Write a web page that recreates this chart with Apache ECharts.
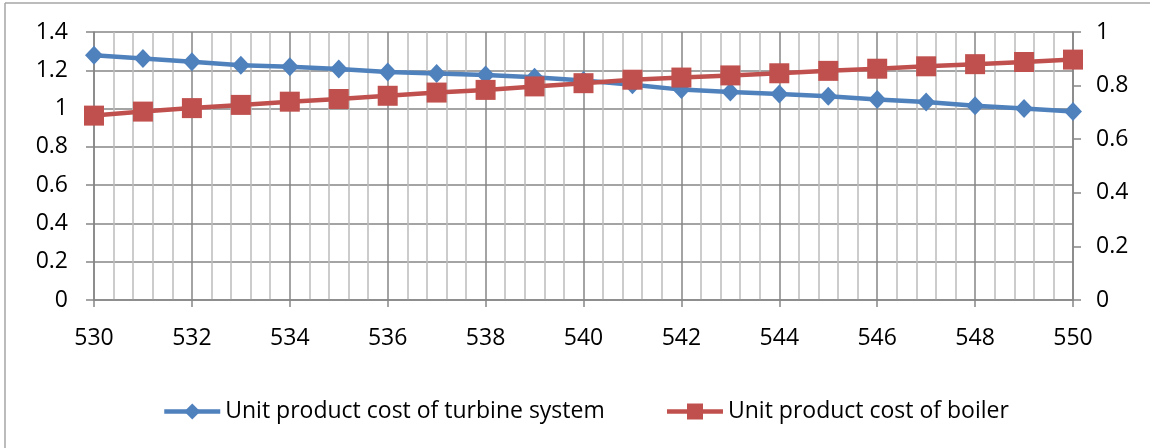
<!DOCTYPE html>
<html>
<head>
<meta charset="utf-8">
<script src="https://cdn.jsdelivr.net/npm/echarts@6/dist/echarts.min.js"></script>
<style>
html,body{margin:0;padding:0;background:#fff;}
#chart{width:1153px;height:448px;}
</style>
</head>
<body>
<div id="chart"></div>
<script>
const temperatures = [530,531,532,533,534,535,536,537,538,539,540,541,542,543,544,545,546,547,548,549,550];
const turbineCost = [1.278,1.261,1.244,1.226,1.219,1.207,1.191,1.183,1.176,1.163,1.147,1.124,1.099,1.087,1.076,1.064,1.047,1.034,1.015,1.001,0.985];
const boilerCost = [0.688,0.703,0.716,0.728,0.740,0.750,0.762,0.774,0.784,0.797,0.809,0.822,0.830,0.838,0.846,0.855,0.863,0.872,0.880,0.888,0.897];
const seriesNames = ['Unit product cost of turbine system','Unit product cost of boiler'];

const FONT = 'Open Sans';
const FS = 23;
const chart = echarts.init(document.getElementById('chart'), null, {renderer:'canvas'});
const majorGrid = '#868686';
const minorGrid = '#bcbcbc';

chart.setOption({
  animation:false,
  backgroundColor:'#fff',
  textStyle:{fontFamily:FONT},
  graphic:[
    {type:'line', shape:{x1:5,y1:3,x2:1150,y2:3}, style:{stroke:'#a6a6a6',lineWidth:1.5}, silent:true},
    {type:'line', shape:{x1:5,y1:3,x2:5,y2:448}, style:{stroke:'#a6a6a6',lineWidth:1.5}, silent:true}
  ],
  grid:{left:94,right:80,top:32,bottom:148,containLabel:false},
  legend:{
    top:395, left:157,
    itemWidth:56, itemHeight:20, itemGap:60,
    lineStyle:{width:4.5},
    textStyle:{fontFamily:FONT,fontSize:FS,color:'#000'},
    data:seriesNames
  },
  xAxis:{
    type:'value', min:530, max:550, interval:2,
    axisLine:{show:true,lineStyle:{color:majorGrid,width:1.5}},
    axisTick:{show:true,length:7,inside:false,lineStyle:{color:majorGrid,width:1.5}},
    axisLabel:{fontFamily:FONT,fontSize:FS,color:'#000',margin:27},
    splitLine:{show:true,lineStyle:{color:majorGrid,width:1.5}},
    minorTick:{show:false,splitNumber:5},
    minorSplitLine:{show:true,lineStyle:{color:minorGrid,width:1.5}}
  },
  yAxis:[
    {
      type:'value', min:0, max:1.4, interval:0.2, position:'left',
      axisLine:{show:true,lineStyle:{color:majorGrid,width:1.5}},
      axisTick:{show:true,length:8,lineStyle:{color:majorGrid,width:1.5}},
      axisLabel:{fontFamily:FONT,fontSize:FS,color:'#000',margin:26,
        formatter:v=>String(Math.round(v*10)/10)},
      splitLine:{show:true,lineStyle:{color:majorGrid,width:1.5}}
    },
    {
      type:'value', min:0, max:1, interval:0.2, position:'right',
      axisLine:{show:true,lineStyle:{color:majorGrid,width:1.5}},
      axisTick:{show:true,length:8,lineStyle:{color:majorGrid,width:1.5}},
      axisLabel:{fontFamily:FONT,fontSize:FS,color:'#000',margin:23,
        formatter:v=>String(Math.round(v*10)/10)},
      splitLine:{show:false}
    }
  ],
  series:[
    {
      name:seriesNames[0], type:'line', yAxisIndex:0,
      data:temperatures.map((t,i)=>[t,turbineCost[i]]),
      symbol:'diamond', symbolSize:[18,19],
      lineStyle:{color:'#4F81BD',width:4.5},
      itemStyle:{color:'#4F81BD'},
      z:2
    },
    {
      name:seriesNames[1], type:'line', yAxisIndex:1,
      data:temperatures.map((t,i)=>[t,boilerCost[i]]),
      symbol:'rect', symbolSize:20,
      lineStyle:{color:'#C0504D',width:4.5},
      itemStyle:{color:'#C0504D'},
      z:3
    }
  ]
});
</script>
</body>
</html>
